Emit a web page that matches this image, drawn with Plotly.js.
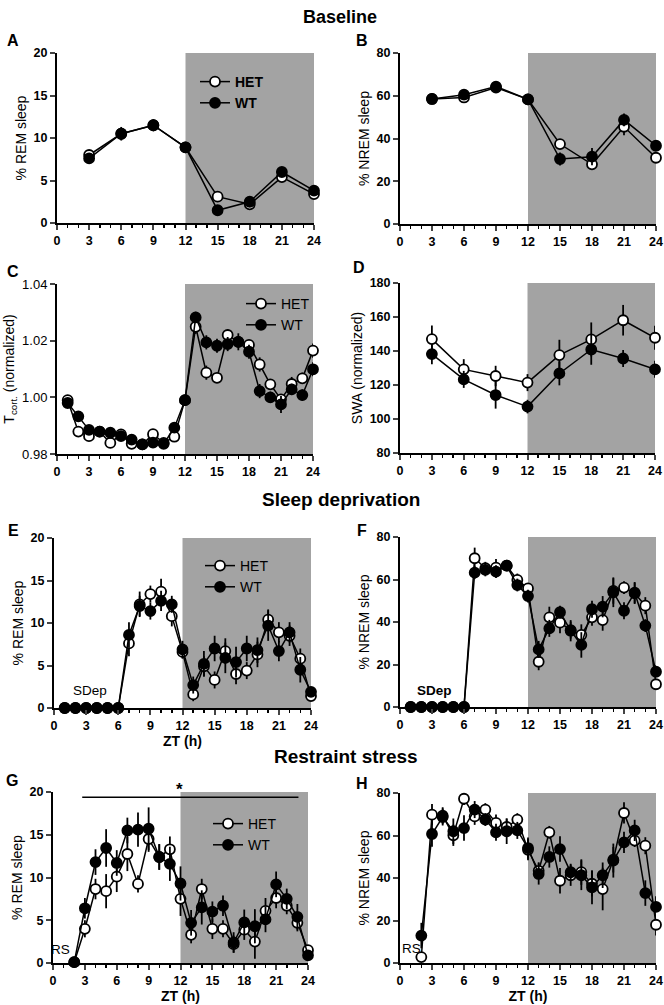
<!DOCTYPE html>
<html>
<head>
<meta charset="utf-8">
<script src="https://cdn.plot.ly/plotly-3.0.1.min.js"></script>
<style>body{margin:0;background:#fff}#fig{width:664px;height:1005px}</style>
</head>
<body>
<div id="fig"></div>
<script>
// values (mean, error)
var zt3 = [3, 6, 9, 12, 15, 18, 21, 24];
var zt1 = [1, 2, 3, 4, 5, 6, 7, 8, 9, 10, 11, 12, 13, 14, 15, 16, 17, 18, 19, 20, 21, 22, 23, 24];
var zt2 = [2, 3, 4, 5, 6, 7, 8, 9, 10, 11, 12, 13, 14, 15, 16, 17, 18, 19, 20, 21, 22, 23, 24];

// A  baseline REM
var remHet = [8.0, 10.5, 11.5, 8.9, 3.1, 2.2, 5.4, 3.4];
var remHetErr = [0.5, 0.7, 0.6, 0.4, 0.4, 0.3, 0.6, 0.4];
var remWt = [7.6, 10.5, 11.5, 8.9, 1.5, 2.5, 6.0, 3.8];
var remWtErr = [0.6, 0.8, 0.7, 0.5, 0.3, 0.4, 0.5, 0.4];

// B  baseline NREM
var nremHet = [58.5, 59.2, 63.8, 58.3, 37.4, 27.9, 45.5, 31.0];
var nremHetErr = [2, 2, 1.5, 1.5, 2, 2.5, 4, 2];
var nremWt = [58.5, 60.5, 64.3, 58.3, 30.4, 31.5, 48.7, 36.6];
var nremWtErr = [2.5, 1.5, 1.5, 2, 3, 4, 3, 2];

// C  cortical temperature
var tHet = [0.999, 0.9879, 0.9863, 0.9879, 0.9839, 0.9869, 0.9836, 0.9834, 0.9870, 0.9839, 0.9861, 0.999,
            1.0249, 1.0087, 1.0069, 1.0220, 1.0196, 1.0185, 1.0116, 1.0046, 0.9993, 1.0047, 1.0067, 1.0165];
var tHetErr = [0.0015, 0.0015, 0.001, 0.001, 0.0015, 0.001, 0.001, 0.001, 0.001, 0.001, 0.0015, 0.001,
               0.0025, 0.0025, 0.0015, 0.002, 0.002, 0.0015, 0.0025, 0.0015, 0.0015, 0.0025, 0.002, 0.0025];
var tWt = [0.998, 0.9933, 0.9885, 0.9879, 0.9875, 0.9863, 0.9851, 0.9834, 0.9840, 0.9836, 0.9893, 0.999,
           1.0282, 1.0194, 1.0182, 1.0188, 1.0196, 1.0161, 1.0022, 1.0000, 0.9975, 1.0028, 1.0008, 1.0099];
var tWtErr = [0.0015, 0.0015, 0.0015, 0.0015, 0.0015, 0.001, 0.0015, 0.001, 0.001, 0.001, 0.0015, 0.001,
              0.002, 0.0025, 0.0025, 0.0025, 0.003, 0.0025, 0.0025, 0.002, 0.003, 0.002, 0.002, 0.0025];

// D  SWA
var swaHet = [147.0, 129.2, 125.3, 121.4, 137.6, 146.8, 158.1, 147.8];
var swaHetErr = [8, 6, 6, 5, 9, 10, 9, 7];
var swaWt = [138.2, 123.3, 114.1, 107.3, 126.8, 140.9, 135.6, 129.2];
var swaWtErr = [6, 5, 8, 4, 7, 9, 5, 5];

// E  REM after sleep deprivation
var sdRemHet = [0, 0, 0, 0, 0, 0, 7.6, 12.2, 13.4, 13.7, 10.8, 6.6, 1.6, 4.9, 3.3, 6.7, 4.0, 4.4, 6.3, 10.4, 8.9, 8.5, 5.8, 1.4];
var sdRemHetErr = [0, 0, 0, 0, 0, 0, 1.5, 1.5, 1.0, 1.5, 1.2, 0.8, 0.8, 1.2, 1.0, 1.5, 1.2, 1.0, 1.5, 1.2, 1.2, 1.2, 1.2, 0.5];
var sdRemWt = [0, 0, 0, 0, 0, 0, 8.6, 12.0, 11.4, 12.6, 12.2, 6.9, 2.7, 5.2, 7.0, 5.9, 5.4, 7.0, 6.8, 9.7, 6.7, 8.9, 4.5, 1.9];
var sdRemWtErr = [0, 0, 0, 0, 0, 0, 1.5, 1.2, 1.0, 1.2, 1.0, 1.0, 1.0, 1.5, 1.5, 1.8, 1.8, 1.5, 1.5, 1.8, 1.2, 1.2, 1.5, 0.5];

// F  NREM after sleep deprivation
var sdNremHet = [0, 0, 0, 0, 0, 0, 70.0, 65.3, 65.6, 66.5, 59.8, 55.8, 21.3, 42.2, 39.7, 36.2, 33.9, 42.2, 40.9, 54.6, 56.2, 53.5, 47.7, 10.7];
var sdNremHetErr = [0, 0, 0, 0, 0, 0, 5, 3, 4, 2, 3, 2, 4, 5, 5, 4, 5, 4, 5, 6, 3, 5, 4, 2];
var sdNremWt = [0, 0, 0, 0, 0, 0, 63.2, 64.5, 63.7, 66.5, 57.4, 52.2, 27.1, 37.0, 44.6, 35.9, 29.2, 46.0, 47.2, 54.0, 45.3, 53.8, 38.3, 16.6];
var sdNremWtErr = [0, 0, 0, 0, 0, 0, 3, 3, 3, 2, 3, 3, 4, 4, 3, 5, 6, 4, 5, 7, 4, 5, 3, 3];

// G  REM after restraint stress
var rsRemHet = [0.1, 4.0, 8.65, 8.4, 10.1, 12.75, 9.25, 14.5, 12.4, 13.3, 7.5, 3.3, 8.65, 4.0, 4.0, 2.2, 3.9, 2.5, 6.1, 7.6, 6.7, 4.7, 1.5];
var rsRemHetErr = [0.3, 1.0, 1.2, 2.0, 1.8, 2.0, 1.0, 1.5, 1.5, 1.5, 2.0, 1.0, 1.2, 1.2, 1.0, 1.0, 1.2, 2.0, 1.5, 1.2, 1.0, 1.0, 0.5];
var rsRemWt = [0.1, 6.4, 11.8, 13.45, 11.7, 15.5, 15.6, 15.7, 12.4, 11.6, 9.3, 4.7, 6.5, 6.0, 6.7, 2.4, 4.75, 4.3, 5.1, 9.2, 7.5, 5.4, 0.9];
var rsRemWtErr = [0.3, 1.2, 1.5, 2.2, 1.5, 1.5, 2.0, 2.5, 1.5, 2.0, 2.0, 1.5, 2.0, 1.2, 1.2, 1.2, 1.5, 2.0, 1.5, 1.5, 1.2, 1.5, 0.5];

// H  NREM after restraint stress
var rsNremHet = [2.8, 69.8, 69.3, 60.1, 77.3, 69.0, 72.2, 65.9, 64.0, 67.5, 53.3, 43.4, 61.5, 38.7, 41.3, 42.8, 37.3, 34.8, 48.6, 70.6, 57.6, 55.2, 18.0];
var rsNremHetErr = [2, 5, 4, 5, 3, 4, 3, 4, 4, 3, 5, 4, 3, 6, 5, 6, 6, 10, 6, 5, 3, 4, 5];
var rsNremWt = [12.9, 60.7, 68.7, 62.0, 63.5, 72.2, 67.5, 61.5, 62.0, 62.4, 54.1, 41.9, 49.9, 53.6, 42.7, 41.3, 35.6, 41.3, 48.2, 56.8, 62.4, 32.9, 26.4];
var rsNremWtErr = [6, 6, 4, 6, 6, 4, 3, 4, 6, 4, 5, 5, 5, 6, 4, 7, 8, 6, 8, 5, 5, 6, 5];

var FONT = 'Liberation Sans, Arial, sans-serif';
var W = 664, H = 1005;
function fx(px) { return px / W; }
function fy(py) { return 1 - py / H; }

var data = [];
function addPanel(n, xs, het, hetErr, wt, wtErr, legendId) {
  var ax = n === 1 ? '' : String(n);
  function tr(name, y, err, fill) {
    var t = {
      x: xs, y: y, name: name, type: 'scatter', mode: 'lines+markers',
      xaxis: 'x' + ax, yaxis: 'y' + ax, cliponaxis: false,
      line: {color: 'black', width: 1.5},
      marker: {symbol: 'circle', size: 10, color: fill, line: {color: 'black', width: 1.8}},
      error_y: {type: 'data', array: err, visible: true, color: 'black', thickness: 1.8, width: 0},
      showlegend: !!legendId
    };
    if (legendId) t.legend = legendId;
    return t;
  }
  data.push(tr('HET', het, hetErr, 'white'));
  data.push(tr('WT', wt, wtErr, 'black'));
}
addPanel(1, zt3, remHet, remHetErr, remWt, remWtErr, 'legend');
addPanel(2, zt3, nremHet, nremHetErr, nremWt, nremWtErr, null);
addPanel(3, zt1, tHet, tHetErr, tWt, tWtErr, 'legend2');
addPanel(4, zt3, swaHet, swaHetErr, swaWt, swaWtErr, null);
addPanel(5, zt1, sdRemHet, sdRemHetErr, sdRemWt, sdRemWtErr, 'legend3');
addPanel(6, zt1, sdNremHet, sdNremHetErr, sdNremWt, sdNremWtErr, null);
addPanel(7, zt2, rsRemHet, rsRemHetErr, rsRemWt, rsRemWtErr, 'legend4');
addPanel(8, zt2, rsNremHet, rsNremHetErr, rsNremWt, rsNremWtErr, null);

// panel boxes in pixels: [x0, x1, yTop, yBottom]
var boxes = [
  [57, 314, 53, 223], [400, 656, 53, 224],
  [57, 313, 284, 454], [400, 655, 283, 453],
  [54, 311, 538, 708], [400, 656, 537, 707],
  [53, 308, 792, 963], [400, 656, 793, 963]
];
var yRanges = [[0, 20], [0, 80], [0.98, 1.04], [80, 180], [0, 20], [0, 80], [0, 20], [0, 80]];
var yDticks = [5, 20, 0.02, 20, 5, 20, 5, 20];
var yTitles = ['% REM sleep', '% NREM sleep', 'T<sub>cort.</sub> (normalized)', 'SWA (normalized)',
               '% REM sleep', '% NREM sleep', '% REM sleep', '% NREM sleep'];
var xTitles = ['', '', '', '', 'ZT (h)', '', 'ZT (h)', 'ZT (h)'];

var tickFont = {family: FONT, size: 12.5, color: 'black', weight: 700};
var layout = {
  width: W, height: H, margin: {l: 0, r: 0, t: 0, b: 0},
  paper_bgcolor: 'white', plot_bgcolor: 'rgba(0,0,0,0)',
  font: {family: FONT, color: 'black'},
  shapes: [], annotations: []
};

boxes.forEach(function (b, i) {
  var ax = i === 0 ? '' : String(i + 1);
  var xa = {
    domain: [fx(b[0]), fx(b[1])], anchor: 'y' + ax, range: [0, 24],
    tickmode: 'linear', tick0: 0, dtick: 3, ticks: 'outside', ticklen: 5, tickwidth: 2,
    minor: {dtick: 1, ticks: 'outside', ticklen: 3, tickwidth: 1.5, tickcolor: 'black'},
    showline: true, linewidth: 2, linecolor: 'black', showgrid: false, zeroline: false,
    tickfont: tickFont
  };
  if (xTitles[i]) xa.title = {text: xTitles[i], font: {family: FONT, size: 14, weight: 700}, standoff: 3};
  layout['xaxis' + ax] = xa;
  layout['yaxis' + ax] = {
    domain: [fy(b[3]), fy(b[2])], anchor: 'x' + ax, range: yRanges[i],
    tickmode: 'linear', tick0: yRanges[i][0], dtick: yDticks[i],
    ticks: 'outside', ticklen: 5, tickwidth: 2,
    showline: true, linewidth: 2, linecolor: 'black', showgrid: false, zeroline: false,
    tickfont: i === 2 ? {family: FONT, size: 13, color: 'black'} : tickFont,
    tickformat: i === 2 ? '.2f' : '',
    title: {text: yTitles[i], font: {family: FONT, size: 14}, standoff: 4}
  };
  // dark phase shading ZT 12-24
  layout.shapes.push({
    type: 'rect', xref: 'x' + ax, yref: 'y' + ax + ' domain', x0: 12, x1: 24, y0: 0, y1: 1,
    fillcolor: '#a3a3a3', line: {width: 0}, layer: 'below'
  });
});

// significance bar in G
layout.shapes.push({type: 'line', xref: 'x7', yref: 'y7', x0: 2.75, x1: 23.1, y0: 19.4, y1: 19.4,
  line: {color: 'black', width: 1.5}});

function legendAt(px, py, bold) {
  return {x: fx(px), y: fy(py), xanchor: 'left', yanchor: 'top', bgcolor: 'rgba(0,0,0,0)',
    font: {family: FONT, size: 14, color: 'black', weight: bold ? 700 : 400},
    itemwidth: 30, tracegroupgap: 0};
}
layout.legend = legendAt(195, 66, true);
layout.legend2 = legendAt(241, 288, false);
layout.legend3 = legendAt(200, 550, false);
layout.legend4 = legendAt(208, 808, false);

function note(text, px, py, size, bold) {
  layout.annotations.push({text: text, xref: 'paper', yref: 'paper', x: fx(px), y: fy(py),
    xanchor: 'center', yanchor: 'middle', showarrow: false,
    font: {family: FONT, size: size, color: 'black', weight: bold ? 700 : 400}});
}
note('Baseline', 340, 17, 18, true);
note('Sleep deprivation', 341, 500, 19, true);
note('Restraint stress', 346, 756, 19, true);
[['A', 13, 40], ['B', 362, 40], ['C', 13, 271], ['D', 359, 268],
 ['E', 13, 530], ['F', 362, 530], ['G', 12, 780], ['H', 362, 783]].forEach(function (l) {
  note(l[0], l[1], l[2], 16, true);
});
note('SDep', 90, 690, 13.5, false);
note('SDep', 434, 690, 13.5, true);
note('RS', 60, 949, 13.5, false);
note('RS', 411, 948, 13.5, false);
note('*', 179, 789, 17, true);

Plotly.newPlot('fig', data, layout, {staticPlot: true});
</script>
</body>
</html>
